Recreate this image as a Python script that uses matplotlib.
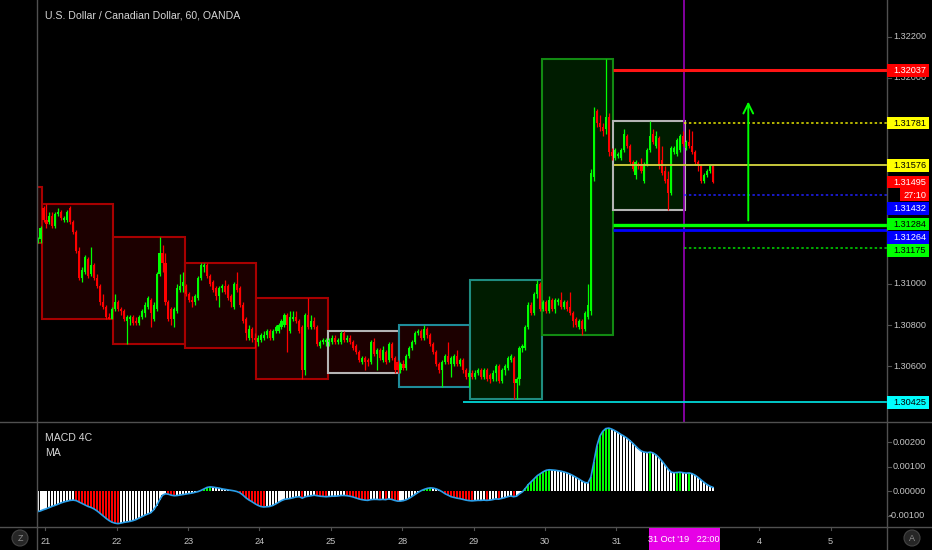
import numpy as np
import matplotlib
matplotlib.use("Agg")
import matplotlib.pyplot as plt
from matplotlib.patches import Rectangle, Circle

plt.rcParams['font.family'] = ['Liberation Sans', 'DejaVu Sans']

W, H = 932, 550
BG = '#000000'
AXC = '#505050'
TXT = '#c4c4c4'

title = "U.S. Dollar / Canadian Dollar, 60, OANDA"

# ---------------- hourly candles (2 Sunday bars, then Oct 21 ... Nov 1) ----------------
opens = [1.3121, 1.3122,
    1.3137, 1.3131, 1.3130, 1.3133, 1.3128, 1.3134, 1.3135, 1.3131, 1.3131, 1.3137, 1.3130, 1.3125, 1.3116, 1.3103, 1.3106, 1.3112, 1.3105, 1.3109, 1.3103, 1.3099, 1.3091, 1.3089, 1.3084, 1.3083,
    1.3088, 1.3091, 1.3088, 1.3087, 1.3082, 1.3083, 1.3084, 1.3082, 1.3081, 1.3084, 1.3086, 1.3089, 1.3092, 1.3083, 1.3088, 1.3105, 1.3115, 1.3110, 1.3091, 1.3088, 1.3083, 1.3087, 1.3097, 1.3099,
    1.3099, 1.3095, 1.3092, 1.3091, 1.3093, 1.3103, 1.3108, 1.3109, 1.3104, 1.3101, 1.3098, 1.3094, 1.3098, 1.3099, 1.3099, 1.3094, 1.3089, 1.3100, 1.3098, 1.3090, 1.3083, 1.3074, 1.3078, 1.3074,
    1.3072, 1.3073, 1.3074, 1.3075, 1.3077, 1.3074, 1.3077, 1.3077, 1.3079, 1.3080, 1.3085, 1.3077, 1.3083, 1.3084, 1.3082, 1.3079, 1.3058, 1.3085, 1.3079, 1.3082, 1.3079, 1.3070, 1.3072, 1.3072,
    1.3072, 1.3072, 1.3074, 1.3072, 1.3072, 1.3076, 1.3073, 1.3074, 1.3072, 1.3070, 1.3067, 1.3062, 1.3064, 1.3063, 1.3062, 1.3072, 1.3066, 1.3068, 1.3063, 1.3067, 1.3063, 1.3071, 1.3064, 1.3062,
    1.3058, 1.3061, 1.3059, 1.3065, 1.3069, 1.3072, 1.3076, 1.3077, 1.3074, 1.3078, 1.3075, 1.3071, 1.3067, 1.3061, 1.3058, 1.3062, 1.3065, 1.3061, 1.3061, 1.3065, 1.3061, 1.3063, 1.3058, 1.3055,
    1.3057, 1.3055, 1.3057, 1.3058, 1.3055, 1.3058, 1.3056, 1.3054, 1.3057, 1.3060, 1.3053, 1.3058, 1.3059, 1.3063, 1.3064, 1.3052, 1.3054, 1.3069, 1.3069, 1.3079, 1.3090, 1.3086, 1.3095, 1.3100,
    1.3088, 1.3091, 1.3087, 1.3092, 1.3088, 1.3091, 1.3092, 1.3089, 1.3091, 1.3089, 1.3086, 1.3083, 1.3079, 1.3082, 1.3078, 1.3084, 1.3087, 1.3152, 1.3184, 1.3178, 1.3176, 1.3175, 1.3181, 1.3164,
    1.3161, 1.3162, 1.3161, 1.3165, 1.3172, 1.3167, 1.3159, 1.3153, 1.3158, 1.3157, 1.3150, 1.3158, 1.3165, 1.3173, 1.3167, 1.3171, 1.3160, 1.3155, 1.3151, 1.3144, 1.3164, 1.3163, 1.3165, 1.3172,
    1.3166, 1.3169, 1.3167, 1.3164, 1.3159, 1.3157, 1.3150, 1.3153, 1.3155, 1.3157]
highs = [1.3123, 1.3128,
    1.3138, 1.3139, 1.3135, 1.3135, 1.3135, 1.3137, 1.3136, 1.3133, 1.3136, 1.3138, 1.3131, 1.3126, 1.3118, 1.3108, 1.3114, 1.3113, 1.3118, 1.3110, 1.3105, 1.3100, 1.3095, 1.3090, 1.3086, 1.3089,
    1.3095, 1.3092, 1.3089, 1.3088, 1.3085, 1.3085, 1.3085, 1.3084, 1.3085, 1.3088, 1.3091, 1.3094, 1.3093, 1.3091, 1.3106, 1.3123, 1.3119, 1.3115, 1.3092, 1.3089, 1.3089, 1.3100, 1.3105, 1.3106,
    1.3100, 1.3096, 1.3094, 1.3095, 1.3104, 1.3110, 1.3110, 1.3110, 1.3105, 1.3102, 1.3099, 1.3099, 1.3100, 1.3102, 1.3100, 1.3095, 1.3101, 1.3106, 1.3099, 1.3091, 1.3084, 1.3080, 1.3079, 1.3076,
    1.3075, 1.3076, 1.3077, 1.3078, 1.3078, 1.3078, 1.3080, 1.3081, 1.3083, 1.3086, 1.3086, 1.3087, 1.3087, 1.3087, 1.3083, 1.3080, 1.3086, 1.3093, 1.3085, 1.3084, 1.3080, 1.3073, 1.3074, 1.3074,
    1.3074, 1.3075, 1.3075, 1.3074, 1.3077, 1.3077, 1.3075, 1.3075, 1.3073, 1.3071, 1.3068, 1.3065, 1.3065, 1.3064, 1.3073, 1.3074, 1.3069, 1.3069, 1.3070, 1.3068, 1.3072, 1.3072, 1.3065, 1.3063,
    1.3062, 1.3063, 1.3066, 1.3070, 1.3073, 1.3077, 1.3078, 1.3078, 1.3080, 1.3079, 1.3076, 1.3072, 1.3068, 1.3062, 1.3063, 1.3066, 1.3072, 1.3065, 1.3066, 1.3068, 1.3064, 1.3064, 1.3059, 1.3058,
    1.3058, 1.3058, 1.3059, 1.3059, 1.3059, 1.3059, 1.3057, 1.3058, 1.3061, 1.3061, 1.3059, 1.3061, 1.3065, 1.3066, 1.3065, 1.3055, 1.3070, 1.3071, 1.3080, 1.3091, 1.3091, 1.3096, 1.3102, 1.3101,
    1.3092, 1.3092, 1.3094, 1.3093, 1.3093, 1.3093, 1.3096, 1.3092, 1.3092, 1.3096, 1.3087, 1.3084, 1.3083, 1.3083, 1.3087, 1.3100, 1.3156, 1.3186, 1.3185, 1.3182, 1.3178, 1.3209, 1.3183, 1.3166,
    1.3166, 1.3164, 1.3166, 1.3175, 1.3173, 1.3168, 1.3160, 1.3160, 1.3159, 1.3161, 1.3159, 1.3166, 1.3179, 1.3175, 1.3174, 1.3172, 1.3167, 1.3157, 1.3155, 1.3167, 1.3167, 1.3171, 1.3173, 1.3174,
    1.3170, 1.3175, 1.3174, 1.3165, 1.3160, 1.3158, 1.3154, 1.3156, 1.3158, 1.3158]
lows = [1.3120, 1.3120,
    1.3130, 1.3127, 1.3129, 1.3127, 1.3127, 1.3133, 1.3131, 1.3130, 1.3130, 1.3129, 1.3124, 1.3115, 1.3102, 1.3101, 1.3105, 1.3103, 1.3104, 1.3102, 1.3098, 1.3090, 1.3088, 1.3083, 1.3083, 1.3083,
    1.3087, 1.3087, 1.3085, 1.3082, 1.3071, 1.3080, 1.3080, 1.3080, 1.3080, 1.3083, 1.3084, 1.3088, 1.3079, 1.3082, 1.3087, 1.3104, 1.3106, 1.3090, 1.3082, 1.3080, 1.3079, 1.3086, 1.3096, 1.3096,
    1.3094, 1.3091, 1.3089, 1.3090, 1.3092, 1.3102, 1.3106, 1.3103, 1.3099, 1.3096, 1.3092, 1.3089, 1.3096, 1.3095, 1.3092, 1.3089, 1.3088, 1.3096, 1.3089, 1.3081, 1.3073, 1.3073, 1.3072, 1.3069,
    1.3070, 1.3072, 1.3073, 1.3074, 1.3073, 1.3073, 1.3076, 1.3076, 1.3078, 1.3079, 1.3067, 1.3076, 1.3082, 1.3081, 1.3076, 1.3054, 1.3056, 1.3078, 1.3078, 1.3078, 1.3070, 1.3069, 1.3071, 1.3070,
    1.3070, 1.3071, 1.3071, 1.3071, 1.3071, 1.3072, 1.3072, 1.3071, 1.3068, 1.3066, 1.3062, 1.3061, 1.3058, 1.3060, 1.3061, 1.3065, 1.3058, 1.3063, 1.3062, 1.3061, 1.3062, 1.3063, 1.3057, 1.3057,
    1.3057, 1.3058, 1.3058, 1.3064, 1.3068, 1.3071, 1.3075, 1.3073, 1.3073, 1.3074, 1.3070, 1.3066, 1.3060, 1.3057, 1.3050, 1.3061, 1.3061, 1.3055, 1.3060, 1.3060, 1.3060, 1.3057, 1.3054, 1.3050,
    1.3054, 1.3054, 1.3056, 1.3054, 1.3054, 1.3053, 1.3052, 1.3053, 1.3053, 1.3052, 1.3052, 1.3056, 1.3058, 1.3062, 1.3044, 1.3044, 1.3051, 1.3067, 1.3068, 1.3078, 1.3085, 1.3085, 1.3093, 1.3087,
    1.3087, 1.3086, 1.3086, 1.3087, 1.3086, 1.3090, 1.3088, 1.3088, 1.3087, 1.3085, 1.3079, 1.3079, 1.3078, 1.3075, 1.3077, 1.3083, 1.3085, 1.3150, 1.3176, 1.3174, 1.3172, 1.3173, 1.3162, 1.3160,
    1.3160, 1.3161, 1.3160, 1.3164, 1.3166, 1.3158, 1.3155, 1.3151, 1.3156, 1.3154, 1.3149, 1.3157, 1.3164, 1.3168, 1.3166, 1.3156, 1.3153, 1.3149, 1.3136, 1.3143, 1.3163, 1.3162, 1.3164, 1.3167,
    1.3165, 1.3166, 1.3163, 1.3158, 1.3155, 1.3149, 1.3149, 1.3152, 1.3154, 1.3149]
closes = [1.3122, 1.3127,
    1.3131, 1.3129, 1.3133, 1.3128, 1.3134, 1.3135, 1.3132, 1.3132, 1.3135, 1.3130, 1.3125, 1.3116, 1.3103, 1.3107, 1.3113, 1.3104, 1.3109, 1.3103, 1.3099, 1.3091, 1.3089, 1.3084, 1.3083, 1.3088,
    1.3091, 1.3088, 1.3087, 1.3083, 1.3084, 1.3084, 1.3081, 1.3081, 1.3084, 1.3087, 1.3090, 1.3093, 1.3086, 1.3090, 1.3105, 1.3115, 1.3110, 1.3091, 1.3083, 1.3083, 1.3088, 1.3098, 1.3099, 1.3101,
    1.3095, 1.3092, 1.3091, 1.3094, 1.3103, 1.3109, 1.3109, 1.3104, 1.3100, 1.3097, 1.3094, 1.3098, 1.3099, 1.3096, 1.3093, 1.3091, 1.3100, 1.3097, 1.3090, 1.3082, 1.3076, 1.3078, 1.3074, 1.3073,
    1.3074, 1.3075, 1.3075, 1.3077, 1.3074, 1.3077, 1.3079, 1.3080, 1.3082, 1.3085, 1.3080, 1.3084, 1.3084, 1.3082, 1.3077, 1.3058, 1.3085, 1.3079, 1.3082, 1.3079, 1.3071, 1.3072, 1.3073, 1.3073,
    1.3073, 1.3074, 1.3072, 1.3073, 1.3076, 1.3073, 1.3074, 1.3072, 1.3069, 1.3067, 1.3063, 1.3064, 1.3062, 1.3062, 1.3072, 1.3066, 1.3068, 1.3064, 1.3068, 1.3062, 1.3071, 1.3064, 1.3058, 1.3058,
    1.3061, 1.3059, 1.3065, 1.3069, 1.3072, 1.3076, 1.3077, 1.3074, 1.3078, 1.3075, 1.3071, 1.3067, 1.3061, 1.3058, 1.3062, 1.3065, 1.3062, 1.3064, 1.3065, 1.3061, 1.3063, 1.3058, 1.3055, 1.3057,
    1.3055, 1.3057, 1.3058, 1.3055, 1.3058, 1.3054, 1.3054, 1.3057, 1.3060, 1.3053, 1.3058, 1.3060, 1.3064, 1.3065, 1.3052, 1.3054, 1.3069, 1.3070, 1.3079, 1.3090, 1.3086, 1.3095, 1.3100, 1.3088,
    1.3091, 1.3087, 1.3092, 1.3088, 1.3092, 1.3092, 1.3089, 1.3091, 1.3088, 1.3086, 1.3082, 1.3080, 1.3082, 1.3078, 1.3086, 1.3090, 1.3154, 1.3181, 1.3178, 1.3176, 1.3174, 1.3181, 1.3164, 1.3162,
    1.3165, 1.3163, 1.3165, 1.3173, 1.3167, 1.3159, 1.3156, 1.3159, 1.3157, 1.3155, 1.3158, 1.3165, 1.3172, 1.3169, 1.3172, 1.3157, 1.3154, 1.3150, 1.3144, 1.3166, 1.3166, 1.3170, 1.3172, 1.3168,
    1.3169, 1.3167, 1.3164, 1.3159, 1.3157, 1.3150, 1.3153, 1.3155, 1.3157, 1.31495]

# MACD 4C histogram values (one per bar)
macd = [-0.00083, -0.00080, -0.00075, -0.00071, -0.00066, -0.00061, -0.00057, -0.00052, -0.00047, -0.00043, -0.00040, -0.00037,
    -0.00036, -0.00038, -0.00044, -0.00050, -0.00056, -0.00062, -0.00066, -0.00072, -0.00080, -0.00090, -0.00100, -0.00110, -0.00119, -0.00126,
    -0.00130, -0.00132, -0.00130, -0.00127, -0.00125, -0.00123, -0.00120, -0.00116, -0.00110, -0.00104, -0.00098, -0.00093, -0.00088, -0.00076, -0.00058, -0.00036, -0.00016, -0.00010, -0.00012, -0.00016, -0.00018, -0.00017,
    -0.00015, -0.00013, -0.00011, -0.00009, -0.00007, -0.00004, -0.00001, 0.00004, 0.00010, 0.00016, 0.00018, 0.00017, 0.00015, 0.00013, 0.00010, 0.00008, 0.00006, 0.00004, 0.00002, -0.00001, -0.00006, -0.00015, -0.00026, -0.00035, -0.00042, -0.00050,
    -0.00057, -0.00062, -0.00064, -0.00063, -0.00062, -0.00058, -0.00052, -0.00045, -0.00038, -0.00033, -0.00031, -0.00029, -0.00026, -0.00023, -0.00022, -0.00028, -0.00022, -0.00020, -0.00018, -0.00016, -0.00018, -0.00020, -0.00021, -0.00022,
    -0.00021, -0.00020, -0.00020, -0.00019, -0.00017, -0.00017, -0.00018, -0.00020, -0.00023, -0.00027, -0.00031, -0.00034, -0.00036, -0.00037, -0.00034, -0.00033, -0.00033, -0.00034, -0.00033, -0.00034, -0.00031, -0.00033, -0.00037, -0.00040,
    -0.00040, -0.00038, -0.00034, -0.00028, -0.00020, -0.00012, -0.00004, 0.00003, 0.00008, 0.00012, 0.00014, 0.00013, 0.00010, 0.00005, -0.00002, -0.00010, -0.00016, -0.00022, -0.00025, -0.00028, -0.00030, -0.00033, -0.00036, -0.00038,
    -0.00039, -0.00038, -0.00037, -0.00037, -0.00036, -0.00037, -0.00036, -0.00034, -0.00031, -0.00032, -0.00029, -0.00026, -0.00022, -0.00019, -0.00022, -0.00020, -0.00010, -0.00002, 0.00012, 0.00028, 0.00040, 0.00052, 0.00064, 0.00072,
    0.00080, 0.00086, 0.00088, 0.00087, 0.00086, 0.00084, 0.00082, 0.00079, 0.00075, 0.00070, 0.00064, 0.00057, 0.00050, 0.00042, 0.00036, 0.00034, 0.00058, 0.00120, 0.00185, 0.00225, 0.00245, 0.00256, 0.00258, 0.00254,
    0.00248, 0.00241, 0.00233, 0.00226, 0.00218, 0.00208, 0.00197, 0.00185, 0.00173, 0.00164, 0.00160, 0.00158, 0.00160, 0.00156, 0.00148, 0.00136, 0.00122, 0.00106, 0.00090, 0.00078, 0.00076, 0.00077, 0.00078, 0.00076,
    0.00074, 0.00075, 0.00072, 0.00066, 0.00057, 0.00047, 0.00037, 0.00028, 0.00021, 0.00016]

day_labels = ['21', '22', '23', '24', '25', '28', '29', '30', '31', '4', '5']
day_starts = [0, 24, 48, 72, 96, 120, 144, 168, 192, 240, 264]
prev_day_high, prev_day_low = 1.3147, 1.3120

box_edge = ['#a80000', '#a80000', '#a80000', '#a80000', '#b4b4b4', '#1f8c9a', '#1f8c80', '#128a12', '#b4b4b4']
box_fill = ['#1c0000', '#1c0000', '#1c0000', '#1c0000', '#1c0000', '#1c0000', '#001c00', '#001c00', '#001c00']

levels = [1.32037, 1.31781, 1.31576, 1.31432, 1.31284, 1.31264, 1.31175, 1.30425]
level_start = [191.5, 215.3, 191.7, 215.3, 191.5, 191.5, 215.3, 141.0]
level_color = ['#ff1414', '#e8e800', '#c8c83c', '#2020ff', '#00ff00', '#0000ff', '#00dd00', '#00d8d8']
level_ls = ['-', (0, (1.6, 1.6)), '-', (0, (1.6, 1.6)), '-', '-', (0, (1.6, 1.6)), '-']
level_lw = [2.2, 1.1, 1.4, 1.1, 2.4, 2.0, 1.1, 1.3]
label_bg = ['#ff0000', '#ffff00', '#ffff00', '#0000ff', '#00ff00', '#0000ff', '#00ff00', '#00ffff']
label_fg = ['white', 'black', 'black', 'white', 'black', 'white', 'black', 'black']
label_dy = [0, 0, 0, 13.6, -1.4, 8.0, 2.6, 0]

last_price = 1.31495
countdown = "27:10"
cursor_index = 215.3
cursor_label = "31 Oct '19   22:00"
arrow_index = 236.9
arrow_from, arrow_to = 1.31308, 1.31885

price_ticks = [1.30400, 1.30600, 1.30800, 1.31000, 1.31200, 1.31400, 1.31600, 1.31800, 1.32000, 1.32200]
macd_ticks = [0.00200, 0.00100, 0.00000, -0.00100]

# ---------------- figure ----------------
o = np.array(opens); h = np.array(highs); l = np.array(lows); c = np.array(closes)
n = min(len(o), len(h), len(l), len(c))
o, h, l, c = o[:n], h[:n], l[:n], c[:n]
idx = np.arange(n) - 2

fig = plt.figure(figsize=(W / 100, H / 100), dpi=100, facecolor=BG)
X0, X1 = 37, 887
P_BOT, M_BOT = 422, 527
XMIN, XMAX = -2.185, 283.53
YMIN, YMAX = 1.30330, 1.32378
MMIN, MMAX = -0.001457, 0.002829

ax = fig.add_axes([X0 / W, 1 - P_BOT / H, (X1 - X0) / W, P_BOT / H])
ax2 = fig.add_axes([X0 / W, 1 - M_BOT / H, (X1 - X0) / W, (M_BOT - P_BOT) / H])
for a in (ax, ax2):
    a.set_facecolor(BG)
    a.set_xlim(XMIN, XMAX)
    for s in a.spines.values():
        s.set_visible(False)
    a.set_xticks([]); a.set_yticks([])
ax.set_ylim(YMIN, YMAX)
ax2.set_ylim(MMIN, MMAX)

# day range boxes
for k in range(9):
    s = day_starts[k]
    sl = slice(s + 2, s + 26)
    top, bot = h[sl].max(), l[sl].min()
    ax.add_patch(Rectangle((s - 0.5, bot), 24, top - bot, facecolor=box_fill[k],
                           edgecolor=box_edge[k], lw=1.5, zorder=1))
ax.add_patch(Rectangle((-3.5, prev_day_low), 3, prev_day_high - prev_day_low,
                       facecolor='#1c0000', edgecolor='#a80000', lw=1.5, zorder=1))

# candles
col = np.where(c >= o, '#00ff00', '#ff0000')
ax.vlines(idx, l, h, colors=col, lw=0.9, zorder=3)
ax.bar(idx, np.maximum(np.abs(c - o), 0.00003), bottom=np.minimum(o, c), width=0.7,
       color=col, lw=0, zorder=4)

# levels
for lv, st, cl, ls, lw in zip(levels, level_start, level_color, level_ls, level_lw):
    ax.plot([st, XMAX], [lv, lv], color=cl, ls=ls, lw=lw, zorder=5, solid_capstyle='butt')
ax.axvline(cursor_index, color='#8c00aa', lw=1.3, zorder=2)
ax.annotate('', xy=(arrow_index, arrow_to), xytext=(arrow_index, arrow_from),
            arrowprops=dict(arrowstyle='->,head_length=0.7,head_width=0.35', color='#00ff00',
                            lw=1.4, shrinkA=0, shrinkB=0), zorder=6)

# MACD pane
m = np.array(macd[:n])
prev = np.concatenate([[m[0]], m[:-1]])
mcol = np.where(m >= 0, np.where(m >= prev, '#00ff00', '#ffffff'),
                np.where(m < prev, '#ff0000', '#ffffff'))
ax2.bar(idx, m, width=0.68, color=mcol, lw=0, zorder=2)
ax2.plot(idx, m, color='#2a9ee8', lw=1.2, zorder=3)

# ---------------- overlay (axis areas, labels) ----------------
ov = fig.add_axes([0, 0, 1, 1], zorder=10)
ov.set_xlim(0, W); ov.set_ylim(H, 0); ov.axis('off')
ov.patch.set_visible(False)

def py_price(p):
    return P_BOT * (YMAX - p) / (YMAX - YMIN)

def py_macd(v):
    return P_BOT + (M_BOT - P_BOT) * (MMAX - v) / (MMAX - MMIN)

def px_of(x):
    return X0 + (x - XMIN) * (X1 - X0) / (XMAX - XMIN)

for xx in (X0, X1):
    ov.plot([xx, xx], [0, H], color=AXC, lw=1.0)
for yy in (P_BOT, M_BOT):
    ov.plot([0, W], [yy, yy], color=AXC, lw=1.0)

FS = 6.6
tag_y = [py_price(lv) + dy for lv, dy in zip(levels, label_dy)]
tag_y += [py_price(last_price), py_price(last_price) + 12.8]

for p in price_ticks:
    y = py_price(p)
    ov.plot([X1, X1 + 4], [y, y], color=AXC, lw=0.8)
    if min(abs(y - t) for t in tag_y) > 7.2:
        ov.text(893, y, f'{p:.5f}', color=TXT, fontsize=FS, va='center', ha='left', zorder=1)
for v in macd_ticks:
    y = py_macd(v)
    ov.plot([X1, X1 + 4], [y, y], color=AXC, lw=0.8)
    ov.text(893 if v >= 0 else 889, y, f'{v:.5f}', color=TXT, fontsize=FS, va='center', ha='left')

def tag(y, txt, bg, fg, x0=887, x1=929):
    ov.add_patch(Rectangle((x0, y - 6.3), x1 - x0, 12.6, facecolor=bg, edgecolor='none', zorder=3))
    ov.text(x0 + 6 if x0 == 887 else (x0 + x1) / 2, y + 0.3, txt, color=fg, fontsize=FS,
            va='center', ha='left' if x0 == 887 else 'center', zorder=4)

for lv, bg, fg, y in zip(levels, label_bg, label_fg, tag_y):
    tag(y, f'{lv:.5f}', bg, fg)
tag(tag_y[-2], f'{last_price:.5f}', '#ff0000', 'white')
tag(tag_y[-1], countdown, '#ff0000', 'white', x0=900, x1=929)

# time axis
for lab, s in zip(day_labels, day_starts):
    x = px_of(s + 0.6)
    ov.plot([x, x], [M_BOT, M_BOT + 3], color=AXC, lw=0.8)
    ov.text(x, 541, lab, color=TXT, fontsize=FS, ha='center', va='center')
cx = px_of(cursor_index)
ov.add_patch(Rectangle((cx - 35.5, M_BOT + 1), 71, H - M_BOT - 1, facecolor='#e600e6',
                       edgecolor='none', zorder=3))
ov.text(cx, 540, cursor_label, color='white', fontsize=FS, ha='center', va='center', zorder=4)

for (x, t) in ((20, 'Z'), (912, 'A')):
    ov.add_patch(Circle((x, 538), 8, facecolor='#262626', edgecolor='#444444', lw=0.8))
    ov.text(x, 538.5, t, color='#8c8c8c', fontsize=6.5, ha='center', va='center')

ov.text(45, 15, title, color='#d6d6d6', fontsize=7.6, ha='left', va='center')
ov.text(45, 438, 'MACD 4C', color='#d6d6d6', fontsize=7.6, ha='left', va='center')
ov.text(45, 453, 'MA', color='#d6d6d6', fontsize=7.6, ha='left', va='center')

fig.savefig('out.png', dpi=100, facecolor=BG)
